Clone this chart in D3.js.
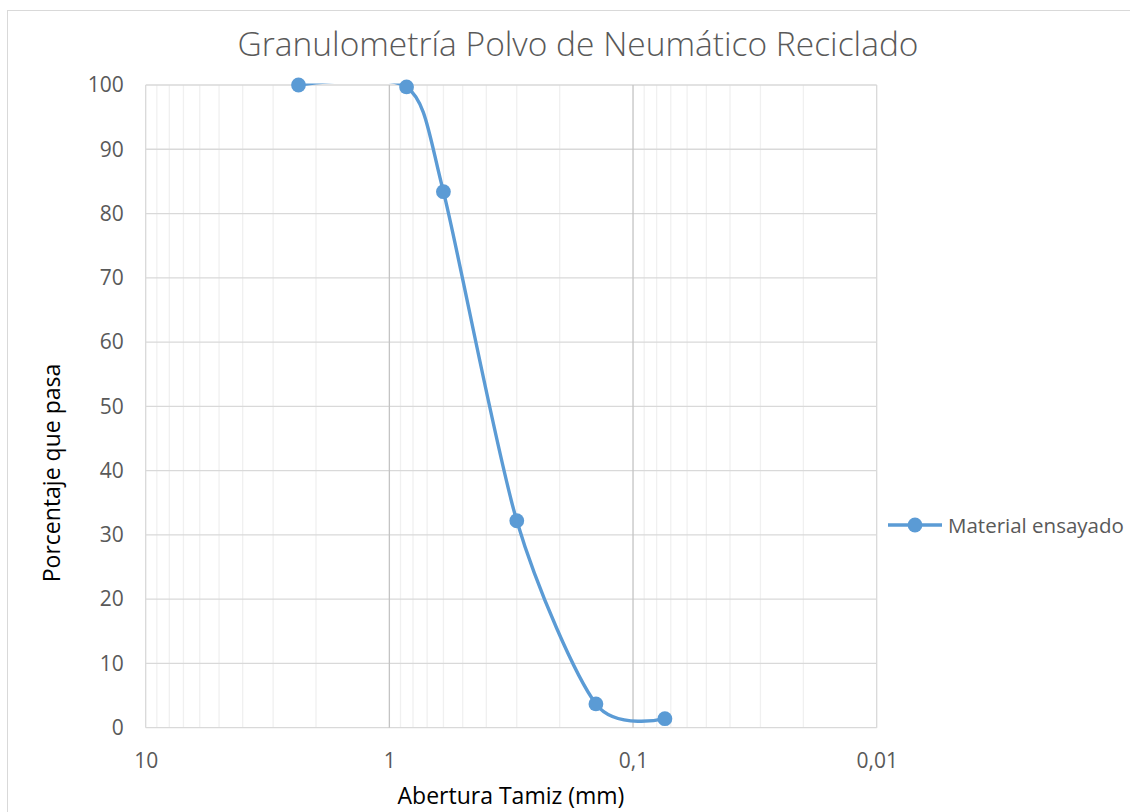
<!DOCTYPE html>
<html>
<head>
<meta charset="utf-8">
<script src="https://cdn.jsdelivr.net/npm/d3@7"></script>
<style>
  html, body { margin: 0; padding: 0; background: #fff; }
  svg { display: block; }
  text { font-family: "Open Sans", "Liberation Sans", sans-serif; fill: #595959; }
</style>
</head>
<body>
<svg id="chart" width="1130" height="812"></svg>
<script>
// Sieve openings (mm) and percentage passing
const aberturas = [2.36, 0.85, 0.6, 0.3, 0.142, 0.074];
const pasa = [100, 99.7, 83.4, 32.2, 3.7, 1.4];
const serieNombre = "Material ensayado";

const xTicks = [10, 1, 0.1, 0.01];
const xTickLabels = ["10", "1", "0,1", "0,01"];
const yTicks = [0, 10, 20, 30, 40, 50, 60, 70, 80, 90, 100];

const titulo = "Granulometría Polvo de Neumático Reciclado";
const tituloX = "Abertura Tamiz (mm)";
const tituloY = "Porcentaje que pasa";

const svg = d3.select("#chart");
const plot = { left: 145.7, right: 876.7, top: 85, bottom: 727.7 };
const azul = "#5B9BD5";

// chart frame
svg.append("rect")
  .attr("x", 7.5).attr("y", 10.5)
  .attr("width", 1140).attr("height", 820)
  .attr("fill", "#fff").attr("stroke", "#D9D9D9").attr("stroke-width", 1);

// plot-area clip for the series line (small margin around the plot area)
svg.append("clipPath").attr("id", "plotClip")
  .append("rect")
  .attr("x", plot.left - 1.5).attr("y", plot.top - 1.5)
  .attr("width", plot.right - plot.left + 3).attr("height", plot.bottom - plot.top + 3);

// log scale, reversed: larger openings on the left
const x = d3.scaleLog().domain([10, 0.01]).range([plot.left, plot.right]);
const y = d3.scaleLinear().domain([0, 100]).range([plot.bottom, plot.top]);

const grid = svg.append("g");

// minor vertical gridlines (2..9 × each decade)
const minor = [];
[0.01, 0.1, 1].forEach(d => { for (let k = 2; k <= 9; k++) minor.push(d * k); });
grid.selectAll("line.minor").data(minor).join("line")
  .attr("x1", d => x(d)).attr("x2", d => x(d))
  .attr("y1", plot.top).attr("y2", plot.bottom)
  .attr("stroke", "#F0F0F0").attr("stroke-width", 1.3);

// horizontal gridlines
grid.selectAll("line.h").data(yTicks).join("line")
  .attr("x1", plot.left).attr("x2", plot.right)
  .attr("y1", d => y(d)).attr("y2", d => y(d))
  .attr("stroke", "#D9D9D9").attr("stroke-width", 1.3);

// major vertical gridlines at the decades
grid.selectAll("line.major").data(xTicks).join("line")
  .attr("x1", d => x(d)).attr("x2", d => x(d))
  .attr("y1", plot.top).attr("y2", plot.bottom)
  .attr("stroke", d => (d === 10 || d === 0.01) ? "#D9D9D9" : "#C4C4C4")
  .attr("stroke-width", 1.3);

// axes
const yAxis = d3.axisLeft(y).tickValues(yTicks).tickSize(0).tickPadding(22);
const gy = svg.append("g").attr("transform", `translate(${plot.left},0)`).call(yAxis);
gy.select(".domain").remove();
gy.selectAll("text").style("font-size", "21px").attr("fill", "#595959");

const xAxis = d3.axisBottom(x).tickValues(xTicks)
  .tickFormat((d, i) => xTickLabels[i]).tickSize(0).tickPadding(0);
const gx = svg.append("g").attr("transform", `translate(0,${plot.bottom})`).call(xAxis);
gx.select(".domain").remove();
gx.selectAll("text").style("font-size", "21px").attr("fill", "#595959")
  .attr("y", 40).attr("dy", 0);

// smoothed series line, clipped to the plot area
const pts = aberturas.map((a, i) => [a, pasa[i]]);
const line = d3.line()
  .x(d => x(d[0])).y(d => y(d[1]))
  .curve(d3.curveCardinal.tension(0.2));
svg.append("path").datum(pts)
  .attr("clip-path", "url(#plotClip)")
  .attr("d", line)
  .attr("fill", "none").attr("stroke", azul)
  .attr("stroke-width", 3.4).attr("stroke-linecap", "round");

svg.selectAll("circle.pt").data(pts).join("circle")
  .attr("cx", d => x(d[0])).attr("cy", d => y(d[1]))
  .attr("r", 7.4).attr("fill", azul);

// titles
svg.append("text").attr("x", 578).attr("y", 56)
  .attr("text-anchor", "middle")
  .style("font-size", "33.5px").style("font-weight", 300)
  .text(titulo);

svg.append("text").attr("x", 511).attr("y", 804)
  .attr("text-anchor", "middle")
  .style("font-size", "23px").style("fill", "#000")
  .text(tituloX);

svg.append("text")
  .attr("transform", `translate(60,${473}) rotate(-90)`)
  .attr("text-anchor", "middle")
  .style("font-size", "23px").style("fill", "#000")
  .text(tituloY);

// legend
const lg = svg.append("g").attr("transform", "translate(888,525)");
lg.append("line").attr("x1", 0).attr("x2", 54).attr("y1", 0).attr("y2", 0)
  .attr("stroke", azul).attr("stroke-width", 3.4);
lg.append("circle").attr("cx", 27).attr("cy", 0).attr("r", 7.4).attr("fill", azul);
lg.append("text").attr("x", 60).attr("y", 7.5)
  .style("font-size", "20.5px")
  .text(serieNombre);
</script>
</body>
</html>
